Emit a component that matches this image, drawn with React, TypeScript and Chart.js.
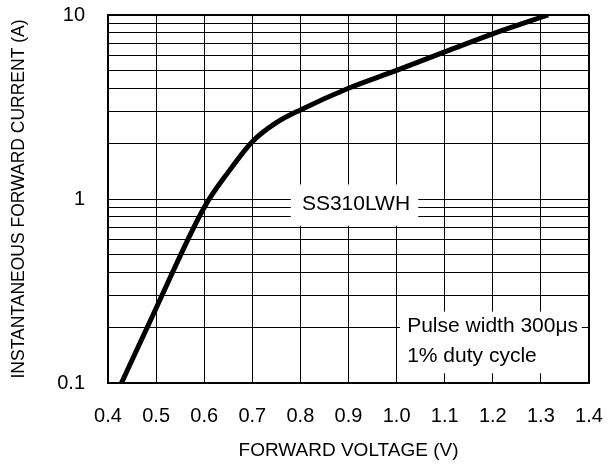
import React, { useEffect, useRef } from "react";
import { Chart, registerables } from "chart.js";

Chart.register(...registerables);

const voltage = [0.428, 0.5, 0.6, 0.65, 0.7, 0.75, 0.8, 0.9, 1.0, 1.1, 1.2, 1.315];
const current = [0.1, 0.255, 0.9, 1.4, 2.05, 2.6, 3.05, 4.0, 5.0, 6.3, 7.9, 10];

const xTicks = [0.4, 0.5, 0.6, 0.7, 0.8, 0.9, 1.0, 1.1, 1.2, 1.3, 1.4];
const yGridValues = [0.1, 0.2, 0.3, 0.4, 0.5, 0.6, 0.7, 0.8, 0.9, 1, 2, 3, 4, 5, 6, 7, 8, 9, 10];
const yLabelValues = [0.1, 1, 10];

const xTitle = "FORWARD VOLTAGE (V)";
const yTitle = "INSTANTANEOUS FORWARD CURRENT (A)";
const partLabel = "SS310LWH";
const noteLines = ["Pulse width 300\u03bcs", "1% duty cycle"];

const FONT = '"Liberation Sans", Arial, sans-serif';

const annotationPlugin = {
  id: "annot",
  beforeDatasetsDraw(chart: any) {
    const { ctx } = chart;
    const xs = chart.scales.x;
    const ys = chart.scales.y;
    ctx.save();
    // part label box
    const bx1 = xs.getPixelForValue(0.78);
    const bx2 = xs.getPixelForValue(1.045);
    const by1 = ys.getPixelForValue(1.2);
    const by2 = ys.getPixelForValue(0.715);
    ctx.fillStyle = "#ffffff";
    ctx.fillRect(bx1, by1, bx2 - bx1, by2 - by1);
    ctx.fillStyle = "#000000";
    ctx.font = `21px ${FONT}`;
    ctx.textAlign = "center";
    ctx.textBaseline = "middle";
    ctx.fillText(partLabel, xs.getPixelForValue(0.9156), ys.getPixelForValue(0.942));
    // note box
    const nx1 = xs.getPixelForValue(1.007);
    const nx2 = xs.getPixelForValue(1.385);
    const ny1 = ys.getPixelForValue(0.244);
    const ny2 = ys.getPixelForValue(0.113);
    ctx.fillStyle = "#ffffff";
    ctx.fillRect(nx1, ny1, nx2 - nx1, ny2 - ny1);
    ctx.fillStyle = "#000000";
    ctx.textAlign = "left";
    const tx = xs.getPixelForValue(1.022);
    ctx.fillText(noteLines[0], tx, ys.getPixelForValue(0.203));
    ctx.fillText(noteLines[1], tx, ys.getPixelForValue(0.139));
    ctx.restore();
  },
};

export default function App() {
  const ref = useRef<HTMLCanvasElement>(null);
  useEffect(() => {
    document.body.style.margin = "0";
    const canvas = ref.current!;
    const chart = new Chart(canvas, {
      type: "line",
      data: {
        datasets: [
          {
            data: voltage.map((v, i) => ({ x: v, y: current[i] })),
            borderColor: "#000000",
            borderWidth: 5,
            pointRadius: 0,
            cubicInterpolationMode: "monotone",
            fill: false,
          },
        ],
      },
      options: {
        animation: false,
        responsive: false,
        layout: { padding: { top: 15, right: 23, left: 0, bottom: 0 } },
        plugins: { legend: { display: false }, tooltip: { enabled: false } },
        scales: {
          x: {
            type: "linear",
            min: 0.4,
            max: 1.4,
            afterBuildTicks: (s: any) => {
              s.ticks = xTicks.map((v) => ({ value: v }));
            },
            afterFit: (s: any) => {
              s.height = 83;
              s.paddingLeft = 0;
              s.paddingRight = 0;
            },
            ticks: {
              font: { family: FONT, size: 20 },
              color: "#000",
              padding: 21,
              maxRotation: 0,
              autoSkip: false,
              callback: (v: any) => Number(v).toFixed(1),
            },
            grid: {
              color: "#000",
              lineWidth: (c: any) => (c.index === xTicks.length - 1 ? 2 : 1),
              drawTicks: false,
            },
            border: { color: "#000", width: 2 },
            title: {
              display: true,
              text: xTitle,
              font: { family: FONT, size: 19 },
              color: "#000",
              padding: { top: 0, bottom: 4 },
            },
          },
          y: {
            type: "logarithmic",
            min: 0.1,
            max: 10,
            afterBuildTicks: (s: any) => {
              s.ticks = yGridValues.map((v) => ({ value: v }));
            },
            afterFit: (s: any) => {
              s.width = 108;
              s.paddingTop = 0;
              s.paddingBottom = 0;
            },
            ticks: {
              font: { family: FONT, size: 20 },
              color: "#000",
              padding: 23,
              autoSkip: false,
              callback: (v: any) => {
                const n = Number(v);
                const hit = yLabelValues.find((l) => Math.abs(l - n) < 1e-9);
                return hit === undefined ? "" : String(hit);
              },
            },
            grid: {
              color: "#000",
              lineWidth: (c: any) => (c.index === yGridValues.length - 1 ? 2 : 1),
              drawTicks: false,
            },
            border: { color: "#000", width: 2 },
            title: {
              display: true,
              text: yTitle,
              font: { family: FONT, size: 17.5 },
              color: "#000",
              padding: { top: 8.5, bottom: 0 },
            },
          },
        },
      },
      plugins: [annotationPlugin],
    });
    return () => chart.destroy();
  }, []);
  return (
    <div style={{ width: 612, height: 466 }}>
      <canvas ref={ref} width={612} height={466} style={{ display: "block" }} />
    </div>
  );
}
